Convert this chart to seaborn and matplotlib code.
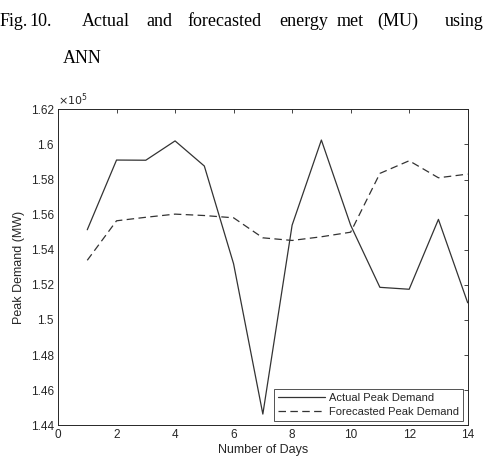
import matplotlib
matplotlib.use("Agg")
import matplotlib.pyplot as plt
import seaborn as sns
import pandas as pd

days = list(range(1, 15))
actual = [1.5514, 1.5911, 1.5910, 1.6020, 1.5877, 1.5320, 1.4464, 1.5540,
          1.6025, 1.5540, 1.5186, 1.5175, 1.5573, 1.5098]
forecast = [1.5340, 1.5565, 1.5585, 1.5603, 1.5595, 1.5582, 1.5468, 1.5453,
            1.5474, 1.5500, 1.5835, 1.5907, 1.5810, 1.5831]
series_names = ["Actual Peak Demand", "Forecasted Peak Demand"]
x_ticks = [0, 2, 4, 6, 8, 10, 12, 14]
y_ticks = [1.44, 1.46, 1.48, 1.50, 1.52, 1.54, 1.56, 1.58, 1.60, 1.62]
y_tick_labels = ["1.44", "1.46", "1.48", "1.5", "1.52", "1.54", "1.56", "1.58", "1.6", "1.62"]

df = pd.DataFrame({
    "day": days * 2,
    "value": actual + forecast,
    "series": [series_names[0]] * len(days) + [series_names[1]] * len(days),
})

sns.set_style("white")
plt.rcParams["font.family"] = ["Liberation Sans", "DejaVu Sans"]

fig = plt.figure(figsize=(4.85, 4.63), dpi=100)
ax = fig.add_axes([0.1196, 0.0814, 0.8447, 0.6825])

sns.lineplot(data=df, x="day", y="value", style="series", ax=ax,
             color="#333333", linewidth=0.9,
             dashes={series_names[0]: "", series_names[1]: (6, 3.5)},
             legend=True)

ax.set_xlim(0, 14)
ax.set_ylim(1.44, 1.62)
ax.set_xticks(x_ticks)
ax.set_xticklabels([str(t) for t in x_ticks])
ax.set_yticks(y_ticks)
ax.set_yticklabels(y_tick_labels)
ax.tick_params(direction="in", length=3, width=0.6, top=True, right=True,
               labelsize=8.5, colors="#262626", labelcolor="#262626", pad=3)
for s in ax.spines.values():
    s.set_visible(True)
    s.set_color("#262626")
    s.set_linewidth(0.7)
ax.set_xlabel("Number of Days", fontsize=9, color="#262626", labelpad=2)
ax.set_ylabel("Peak Demand (MW)", fontsize=9, color="#262626", labelpad=4)
ax.text(0.0, 1.005, r"$\times10^{5}$", transform=ax.transAxes, fontsize=8,
        color="#262626", ha="left", va="bottom")

leg = ax.legend(loc="lower right", frameon=True, fontsize=8, fancybox=False,
                handlelength=4.2, borderpad=0.35, labelspacing=0.35,
                handletextpad=0.4, borderaxespad=0.4)
leg.get_frame().set_edgecolor("#262626")
leg.get_frame().set_linewidth(0.7)
leg.set_title(None)

# caption, justified words
words1 = [("Fig.", 0), ("10.", 29), ("Actual", 82), ("and", 146), ("forecasted", 187),
          ("energy", 279), ("met", 337), ("(MU)", 377)]
W, H = 485, 463
for w, xp in words1:
    fig.text(xp / W, 1 - 26 / H, w, fontsize=13, family=["Liberation Serif"],
             ha="left", va="baseline", color="black")
fig.text(483.5 / W, 1 - 26 / H, "using", fontsize=13, family=["Liberation Serif"],
         ha="right", va="baseline", color="black")
fig.text(63 / W, 1 - 63 / H, "ANN", fontsize=13, family=["Liberation Serif"],
         ha="left", va="baseline", color="black")

fig.savefig("out.png", dpi=100, facecolor="white")
